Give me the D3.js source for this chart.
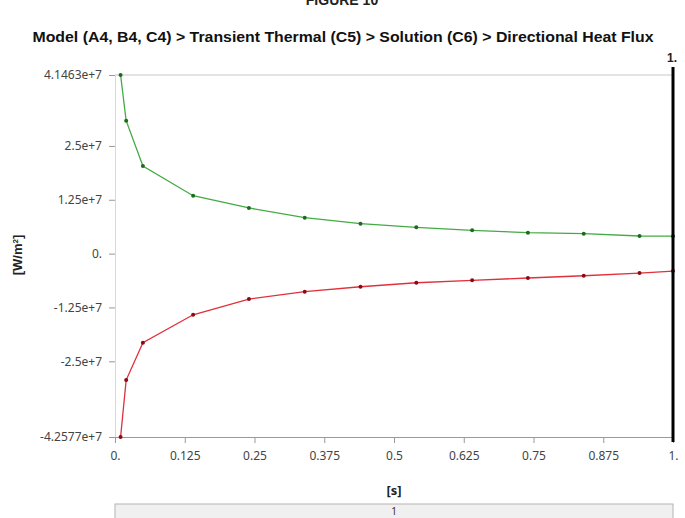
<!DOCTYPE html>
<html>
<head>
<meta charset="utf-8">
<script src="https://cdn.jsdelivr.net/npm/d3@7"></script>
<style>
  body { margin: 0; background: #fff; }
  svg { display: block; }
  .tick text { font-family: "Noto Sans", "DejaVu Sans", sans-serif; font-size: 12px; fill: #444; }
</style>
</head>
<body>
<div id="chart"></div>
<script>
// time steps [s]
var times = [0.01, 0.02, 0.05, 0.14, 0.24, 0.34, 0.44, 0.54, 0.64, 0.74, 0.84, 0.94, 1.0];
// directional heat flux, max and min [W/m2]
var flux_max = [4.1463e7, 3.085e7, 2.034e7, 1.344e7, 1.059e7, 0.833e7, 0.694e7, 0.610e7, 0.541e7, 0.485e7, 0.462e7, 0.409e7, 0.405e7];
var flux_min = [-4.2577e7, -2.936e7, -2.070e7, -1.420e7, -1.055e7, -0.885e7, -0.770e7, -0.677e7, -0.621e7, -0.567e7, -0.514e7, -0.451e7, -0.405e7];

var x_ticks = [0, 0.125, 0.25, 0.375, 0.5, 0.625, 0.75, 0.875, 1];
var x_tick_labels = ["0.", "0.125", "0.25", "0.375", "0.5", "0.625", "0.75", "0.875", "1."];
var y_ticks = [-4.2577e7, -2.5e7, -1.25e7, 0, 1.25e7, 2.5e7, 4.1463e7];
var y_tick_labels = ["-4.2577e+7", "-2.5e+7", "-1.25e+7", "0.", "1.25e+7", "2.5e+7", "4.1463e+7"];

var width = 685, height = 518;
var plot = {left: 115, right: 673, top: 75, bottom: 437};

var svg = d3.select("#chart").append("svg")
    .attr("width", width)
    .attr("height", height);

var x_scale = d3.scaleLinear()
    .domain([0, 1])
    .range([plot.left, plot.right]);

var y_scale = d3.scaleLinear()
    .domain([y_ticks[0], y_ticks[y_ticks.length - 1]])
    .range([plot.bottom, plot.top]);

// figure caption, cut off at the top edge as in the scan
svg.append("text")
    .attr("x", 342).attr("y", 5)
    .attr("text-anchor", "middle")
    .style("font-family", "Liberation Sans Narrow, Liberation Sans, Arial, sans-serif")
    .style("font-weight", "bold")
    .style("font-size", "14px")
    .style("fill", "#222")
    .text("FIGURE 10");

// title
svg.append("text")
    .attr("x", 343).attr("y", 42)
    .attr("text-anchor", "middle")
    .attr("textLength", 621)
    .attr("lengthAdjust", "spacingAndGlyphs")
    .style("font-family", "Liberation Sans Narrow, Liberation Sans, Arial, sans-serif")
    .style("font-weight", "bold")
    .style("font-size", "15px")
    .style("fill", "#111")
    .text("Model (A4, B4, C4) > Transient Thermal (C5) > Solution (C6) > Directional Heat Flux");

// top border line
svg.append("line")
    .attr("x1", plot.left).attr("x2", plot.right)
    .attr("y1", plot.top).attr("y2", plot.top)
    .style("stroke", "#c8c8c8");

// y axis
var y_axis = svg.append("g")
    .attr("transform", "translate(" + plot.left + ",0)")
    .call(d3.axisLeft(y_scale)
        .tickValues(y_ticks)
        .tickFormat(function(d, i) { return y_tick_labels[i]; })
        .tickSize(6)
        .tickPadding(7));
y_axis.select(".domain").style("stroke", "#d8d8d8");
y_axis.selectAll(".tick line").style("stroke", "#999");

// x axis
var x_axis = svg.append("g")
    .attr("transform", "translate(0," + plot.bottom + ")")
    .call(d3.axisBottom(x_scale)
        .tickValues(x_ticks)
        .tickFormat(function(d, i) { return x_tick_labels[i]; })
        .tickSize(6)
        .tickPadding(8));
x_axis.select(".domain").style("stroke", "#999");
x_axis.selectAll(".tick line").style("stroke", "#999");

// axis titles
svg.append("text")
    .attr("transform", "translate(22," + 255 + ") rotate(-90)")
    .attr("text-anchor", "middle")
    .style("font-family", "Liberation Sans, Arial, sans-serif")
    .style("font-weight", "bold")
    .style("font-size", "13px")
    .style("fill", "#222")
    .html("[W/m<tspan baseline-shift='super' font-size='8px'>2</tspan>]");

svg.append("text")
    .attr("x", 394).attr("y", 495)
    .attr("text-anchor", "middle")
    .style("font-family", "Noto Sans, sans-serif")
    .style("font-weight", "bold")
    .style("font-size", "13px")
    .style("fill", "#222")
    .text("[s]");

// lines
var plot_line = d3.line()
    .x(function(d) { return x_scale(d.t); })
    .y(function(d) { return y_scale(d.v); });

var series = [
  {values: flux_max, line: "#44aa44", dot: "#1c6b1c"},
  {values: flux_min, line: "#e0303a", dot: "#8a0a14"}
];

series.forEach(function(s) {
  var data = times.map(function(t, i) { return {t: t, v: s.values[i]}; });
  svg.append("path")
      .datum(data)
      .attr("d", plot_line)
      .style("stroke", s.line)
      .style("stroke-width", 1.3)
      .style("fill", "none");
  svg.selectAll(null)
      .data(data)
    .enter().append("circle")
      .attr("cx", function(d) { return x_scale(d.t); })
      .attr("cy", function(d) { return y_scale(d.v); })
      .attr("r", 2)
      .style("fill", s.dot);
});

// current time marker
svg.append("line")
    .attr("x1", x_scale(1)).attr("x2", x_scale(1))
    .attr("y1", plot.top - 8).attr("y2", plot.bottom + 5)
    .style("stroke", "#000")
    .style("stroke-width", 3);
svg.append("text")
    .attr("x", x_scale(1) - 1).attr("y", 62)
    .attr("text-anchor", "middle")
    .style("font-family", "Liberation Sans, Arial, sans-serif")
    .style("font-weight", "bold")
    .style("font-size", "12px")
    .style("fill", "#222")
    .text("1.");

// step table strip at the bottom
svg.append("rect")
    .attr("x", plot.left).attr("y", 504)
    .attr("width", plot.right - plot.left).attr("height", 20)
    .style("fill", "#f0f0f0")
    .style("stroke", "#b4b4b4");
svg.append("text")
    .attr("x", 394).attr("y", 515)
    .attr("text-anchor", "middle")
    .style("font-family", "Noto Sans, sans-serif")
    .style("font-size", "10px")
    .style("fill", "#333")
    .text("1");
</script>
</body>
</html>
